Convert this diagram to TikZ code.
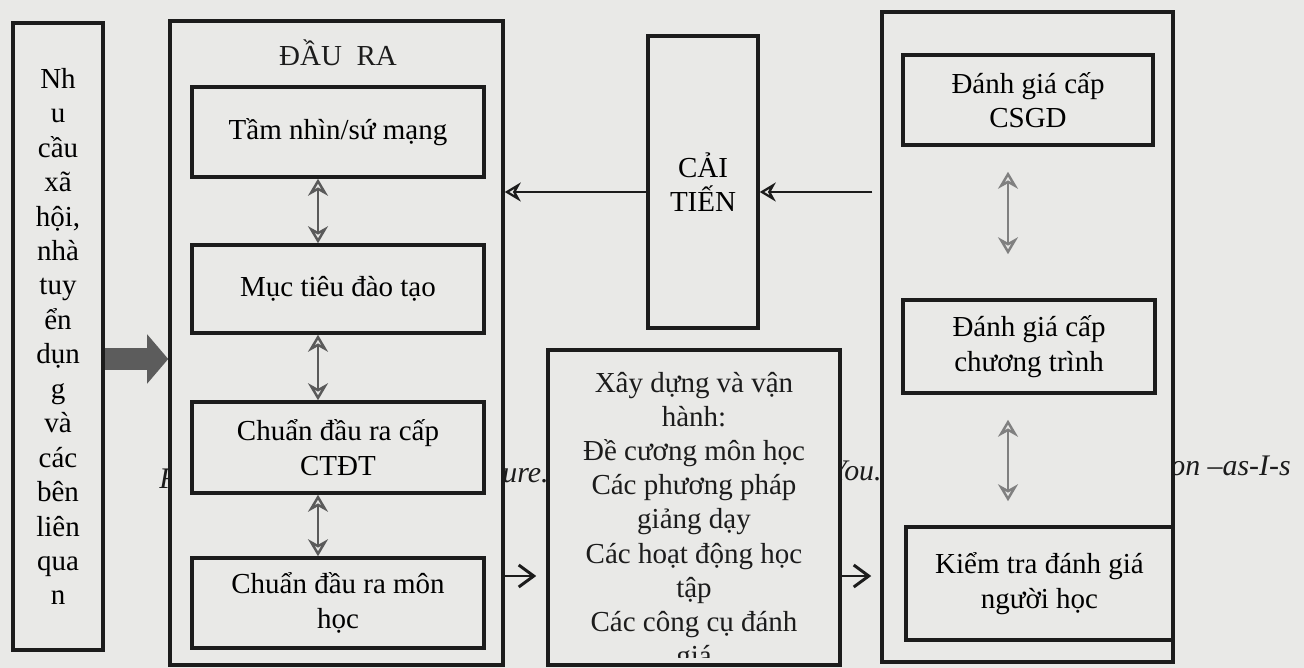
\documentclass[tikz,border=0pt]{standalone}
\usepackage{fontspec}
\setmainfont{Liberation Serif}
\usetikzlibrary{arrows.meta}

\definecolor{paper}{RGB}{233,233,231}
\definecolor{ink}{RGB}{28,28,28}
\definecolor{arrowgray}{RGB}{90,90,90}
\definecolor{blockgray}{RGB}{92,92,92}

\tikzset{
	box/.style={draw=ink,line width=2pt,fill=paper,inner sep=0pt,align=center,
		font=\fontsize{16.5}{19.6}\selectfont},
	twoway/.style={<->,>={Stealth[open,length=3.4mm,width=4mm]},draw=arrowgray,line width=1.4pt},
	feedback/.style={-{Stealth[open,length=3.2mm,width=3.8mm]},draw=ink,line width=1.3pt},
	flow/.style={-{Straight Barb[length=3mm,width=4.4mm]},draw=ink,line width=1.7pt},
	ital/.style={font=\fontsize{17}{20}\selectfont\itshape,text=ink,inner sep=0pt}
}

\begin{document}
\begin{tikzpicture}[x=0.2mm,y=-0.2mm]
				\fill[paper] (0,0) rectangle (1304,668);
				\useasboundingbox (0,0) rectangle (1304,668);
				% Chu nghieng cua chu thich phia sau cac khung
				\node[ital,anchor=base west] (figf) at (159,488) {F};
				\node[ital,anchor=base east] (figure) at (549,482) {gure.};
				\node[ital,anchor=base west] (figyou) at (830,480) {You.};
				\node[ital,anchor=base west] (figson) at (1170,475) {on –as-I-s};
				
				\node[box,minimum width=18mm,minimum height=125.4mm] (nhucau) at (58,336.5)
				{Nh\\u\\cầu\\xã\\hội,\\nhà\\tuy\\ển\\dụn\\g\\và\\các\\bên\\liên\\qua\\n};
				
				\node[box,minimum width=66.6mm,minimum height=128.8mm] (daura) at (336.5,343) {};
				\node[font=\fontsize{16.5}{19.6}\selectfont,text=ink] (dauratitle) at (338,53) {ĐẦU\hspace{0.5em}RA};
				\node[box,minimum width=58.4mm,minimum height=18mm] (tamnhin) at (338,132) {Tầm nhìn/sứ mạng};
				\node[box,minimum width=58.4mm,minimum height=17.6mm] (muctieu) at (338,289) {Mục tiêu đào tạo};
				\node[box,minimum width=58.4mm,minimum height=18.2mm] (cdrctdt) at (338,447.5) {Chuẩn đầu ra cấp\\CTĐT};
				\node[box,minimum width=58.4mm,minimum height=18mm] (cdrmon) at (338,603) {Chuẩn đầu ra môn\\học};
				
				\node[box,minimum width=22mm,minimum height=58.4mm] (caitien) at (703,182) {CẢI\\TIẾN};
				
				\node[box,minimum width=58.4mm,minimum height=63mm] (xaydung) at (694,507.5) {};
				\begin{scope}
					\clip (xaydung.north west) rectangle ([yshift=1.8mm]xaydung.south east);
					\node[align=center,font=\fontsize{16.5}{19.4}\selectfont,text=ink] (xaydungtext) at (694,522)
					{Xây dựng và vận\\hành:\\Đề cương môn học\\Các phương pháp\\giảng dạy\\Các hoạt động học\\tập\\Các công cụ đánh\\giá};
				\end{scope}
				
				\node[box,minimum width=58.2mm,minimum height=130mm] (danhgia) at (1027.5,337) {};
				\node[box,minimum width=50mm,minimum height=18mm] (csgd) at (1028,100) {Đánh giá cấp\\CSGD};
				\node[box,minimum width=50.4mm,minimum height=18.6mm] (chuongtrinh) at (1029,346.5) {Đánh giá cấp\\chương trình};
				\node[box,minimum width=53.4mm,minimum height=22.6mm] (kiemtra) at (1039.5,583.5) {Kiểm tra đánh giá\\người học};
				
				\coordinate (bigrow) at (0,359);
				\coordinate (toprow) at (0,192);
				\coordinate (lowrow) at (0,576);
				\coordinate (leftcol) at (318,0);
				\coordinate (rightcol) at (1008,0);
				
				% mui ten lon vao khung DAU RA
				\draw[line width=4.4mm,draw=blockgray,-{Triangle[length=4.2mm,width=9.6mm]}]
				(nhucau.east |- bigrow) -- (daura.west |- bigrow);
				\draw[feedback] (caitien.west |- toprow) -- (daura.east |- toprow);
				\draw[feedback,shorten <=1.6mm] (danhgia.west |- toprow) -- (caitien.east |- toprow);
				\draw[flow,shorten >=2mm] (daura.east |- lowrow) -- (xaydung.west |- lowrow);
				\draw[flow,shorten >=1.8mm] (xaydung.east |- lowrow) -- (danhgia.west |- lowrow);
				\foreach \a/\b in {tamnhin/muctieu,muctieu/cdrctdt,cdrctdt/cdrmon}
				\draw[twoway] (\a.south -| leftcol) -- (\b.north -| leftcol);
				\draw[twoway,draw=gray,shorten <=5mm,shorten >=8.8mm] (csgd.south -| rightcol) -- (chuongtrinh.north -| rightcol);
				\draw[twoway,draw=gray,shorten <=5mm,shorten >=4.8mm] (chuongtrinh.south -| rightcol) -- (kiemtra.north -| rightcol);
			\end{tikzpicture}
\end{document}
